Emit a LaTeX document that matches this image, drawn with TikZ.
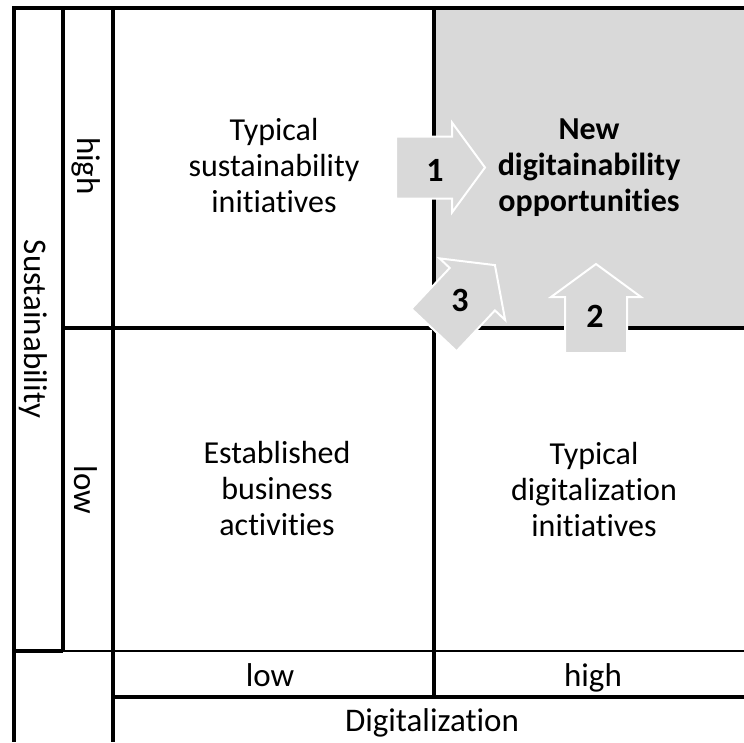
\documentclass[tikz,border=0pt]{standalone}
\usepackage{fontspec}
\setmainfont{Carlito}[RawFeature={-liga;-clig}]
\definecolor{quadgray}{HTML}{D9D9D9}
\tikzset{
  gridline/.style={line width=3.2pt, black},
  thinline/.style={line width=2.2pt, black},
  blockarrow/.style={fill=quadgray, draw=white, line width=2pt, line join=miter},
  quadtext/.style={align=center, inner sep=0pt, font=\fontsize{32}{36}\selectfont},
  celltext/.style={inner sep=0pt, font=\fontsize{33}{36}\selectfont},
  numtext/.style={inner sep=0pt, font=\fontsize{34}{36}\selectfont\bfseries}
}
\newcommand\drawblockarrow[3]{%
  \begin{scope}[shift={(#1,-#2)},rotate=#3]
    \filldraw[blockarrow] (0,-31) -- (56,-31) -- (56,-45) -- (89,0) -- (56,45) -- (56,31) -- (0,31) -- cycle;
  \end{scope}}
\begin{document}
\begin{tikzpicture}[x=1pt,y=1pt]
\useasboundingbox (0,0) rectangle (744,-742);
% shaded quadrant
\fill[quadgray] (434,-8) rectangle (744,-328);
% grid
\draw[gridline] (744,-8) -- (14,-8) -- (14,-742);
\draw[gridline] (63,-8) -- (63,-651);
\draw[gridline] (113,-8) -- (113,-742);
\draw[gridline] (434,-8) -- (434,-697);
\draw[gridline] (63,-328) -- (744,-328);
\draw[gridline] (14,-651) -- (63,-651);
\draw[thinline] (63,-651) -- (744,-651);
\draw[gridline] (113,-697) -- (744,-697);
% quadrant texts
\node[quadtext] (tl) at (274,-166) {Typical\\sustainability\\initiatives};
\node[quadtext, font=\fontsize{32}{36}\selectfont\bfseries] (tr) at (589,-168) {New\\digitainability\\opportunities};
\node[quadtext] (bl) at (277,-488) {Established\\business\\activities};
\node[quadtext] (br) at (594,-489) {Typical\\digitalization\\initiatives};
% axis labels
\node[celltext, anchor=base] (dlow) at (270,-686) {low};
\node[celltext, anchor=base] (dhigh) at (593,-686) {high};
\node[celltext, anchor=base] (dig) at (432,-731) {Digitalization};
\node[celltext, rotate=-90] (sus) at (33,-329) {Sustainability};
\node[celltext, rotate=-90] (shigh) at (86,-166) {high};
\node[celltext, rotate=-90] (slow) at (86,-490) {low};
% arrows
\drawblockarrow{396}{167.5}{0}
\drawblockarrow{596}{353}{90}
\drawblockarrow{434}{330}{46.8}
\node[numtext] (n1) at (435,-170) {1};
\node[numtext] (n2) at (595,-316) {2};
\node[numtext] (n3) at (460,-300) {3};
\end{tikzpicture}
\end{document}
